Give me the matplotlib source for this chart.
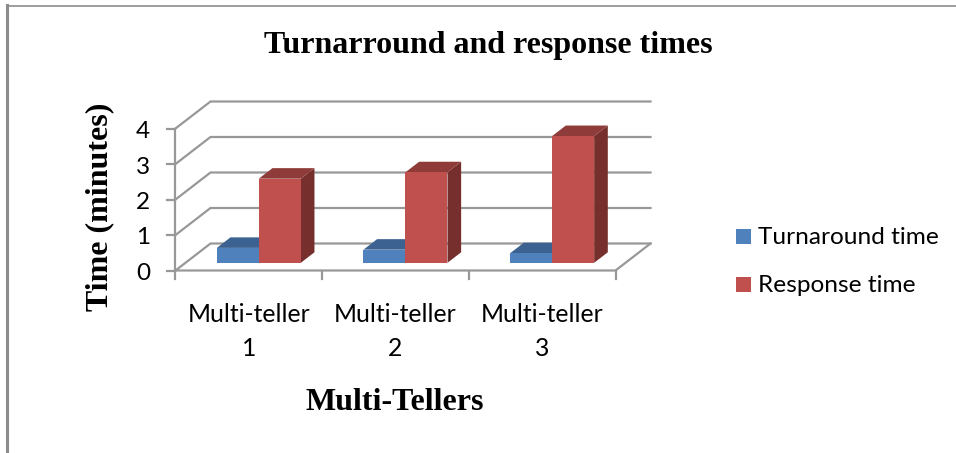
#!/usr/bin/env python
# -*- coding: utf-8 -*-

import matplotlib
matplotlib.use("Agg")
import matplotlib.pyplot as plt
from matplotlib.patches import Polygon, Rectangle

categories = ["Multi-teller\n1", "Multi-teller\n2", "Multi-teller\n3"]
turnaround = [0.42, 0.37, 0.27]
response = [2.37, 2.55, 3.57]
series_names = ["Turnaround time", "Response time"]
y_ticks = [0, 1, 2, 3, 4]

BLUE = ("#4F81BD", "#3C6291", "#2F4D72")
RED = ("#C0504D", "#8F3B39", "#772F2D")
GREY = "#989898"
LW = 1.6

# Fake 3d box, everything is in pixels of the picture
X0, Y0 = 175.5, 270.5
CAT_W = 146.67
UNIT = 35.5
DX, DY = 35.0, -27.0


def proj(cat, val, depth=0.0):
    return X0 + cat * CAT_W + depth * DX, Y0 - val * UNIT + depth * DY


def bar3d(ax, cat, width, val, colors):
    d0, d1 = 0.285, 0.675
    c1 = cat + width
    front = [proj(cat, 0, d0), proj(c1, 0, d0), proj(c1, val, d0), proj(cat, val, d0)]
    top = [proj(cat, val, d0), proj(c1, val, d0), proj(c1, val, d1), proj(cat, val, d1)]
    side = [proj(c1, 0, d0), proj(c1, 0, d1), proj(c1, val, d1), proj(c1, val, d0)]
    for pts, col in zip((side, top, front), (colors[2], colors[1], colors[0])):
        ax.add_patch(Polygon(pts, closed=True, fc=col, ec="none", zorder=3))


fig = plt.figure(figsize=(9.56, 4.53), dpi=100)
ax = fig.add_axes([0, 0, 1, 1])
ax.set_xlim(0, 956)
ax.set_ylim(453, 0)
ax.axis("off")

# page border
ax.plot([7.5, 7.5], [5, 453], color="#8C8C8C", lw=2.2, zorder=1)
ax.plot([7, 956], [5.5, 5.5], color="#8C8C8C", lw=1.2, zorder=1)

# walls and gridlines
for v in y_ticks:
    xs, ys = zip(proj(0, v), proj(0, v, 1), proj(3, v, 1))
    ax.plot(xs, ys, color=GREY, lw=LW, zorder=2, solid_joinstyle="miter")
    tx, ty = proj(0, v)
    ax.plot([tx - 8, tx], [ty, ty], color=GREY, lw=LW, zorder=2)
    ax.text(143, ty + 3, str(v), fontsize=17.5, family="Lato", ha="center", va="center")

xs, ys = zip(proj(0, 0), proj(0, 4))
ax.plot(xs, ys, color=GREY, lw=LW, zorder=2)
xs, ys = zip(proj(0, 0), proj(3, 0), proj(3, 0, 1))
ax.plot(xs, ys, color=GREY, lw=LW, zorder=2)

for i in range(len(categories) + 1):
    tx, ty = proj(i, 0)
    ax.plot([tx, tx], [ty, ty + 8], color=GREY, lw=LW, zorder=2)

# bars
BAR_W = 0.2864
GAP = (1 - 2 * BAR_W) / 2
for i, name in enumerate(categories):
    bar3d(ax, i + GAP, BAR_W, turnaround[i], BLUE)
    bar3d(ax, i + GAP + BAR_W, BAR_W, response[i], RED)
    line1, line2 = name.split("\n")
    cx = proj(i + 0.5, 0)[0]
    ax.text(cx, 314, line1, fontsize=17.8, family="Lato", ha="center", va="center")
    ax.text(cx, 348, line2, fontsize=17.8, family="Lato", ha="center", va="center")

# texts
ax.text(488.5, 45, "Turnarround and response times", fontsize=23, fontweight="bold",
        family="Liberation Serif", ha="center", va="center")
ax.text(395, 402, "Multi-Tellers", fontsize=23, fontweight="bold",
        family="Liberation Serif", ha="center", va="center")
ax.text(100, 207, "Time (minutes)", fontsize=23, fontweight="bold", rotation=90,
        family="Liberation Serif", ha="center", va="center")

# legend
for name, col, ly in zip(series_names, (BLUE[0], RED[0]), (236.5, 284.5)):
    ax.add_patch(Rectangle((736, ly - 7.5), 15, 15, fc=col, ec="none"))
    ax.text(758, ly + 1, name, fontsize=17.6, family="Lato", ha="left", va="center")

fig.savefig("out.png", dpi=100)
